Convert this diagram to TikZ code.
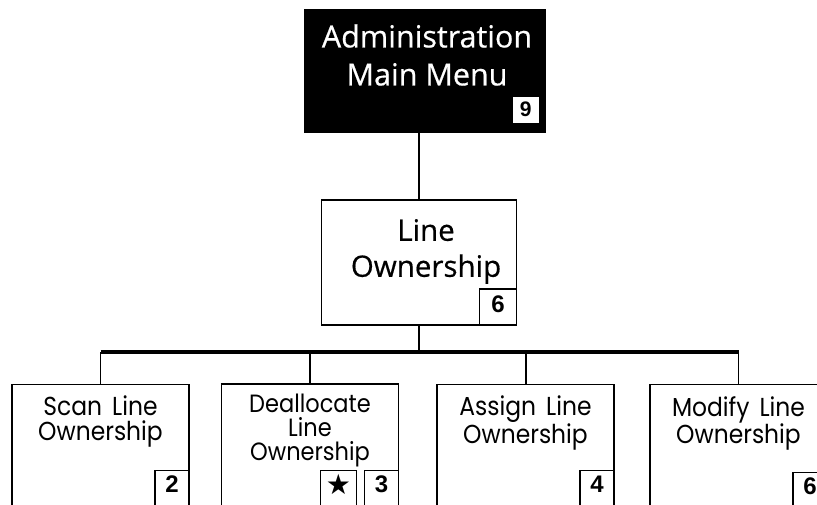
\documentclass[tikz,border=0pt]{standalone}
\usepackage{fontspec}
\newfontfamily\headfont[FakeBold=0.5]{Open Sans}
\newfontfamily\boxfont[WordSpace=1.6, FakeStretch=0.9]{Poppins}
\newfontfamily\numfont{Liberation Sans}
\newfontfamily\symfont{DejaVu Sans}
\usetikzlibrary{positioning, calc}

\begin{document}
\begin{tikzpicture}[x=1bp, y=-1bp,
        box/.style={draw, line width=1.2bp, inner sep=0pt, minimum width=177bp, minimum height=150bp, anchor=north},
        boxtext/.style={inner sep=0pt, align=center, font={\boxfont\fontsize{26bp}{25bp}\selectfont}},
        headtext/.style={inner sep=0pt, align=center, font={\headfont\fontsize{30.5bp}{38bp}\selectfont}},
        numbox/.style={draw, fill=white, line width=1.2bp, inner xsep=0pt, inner ysep=5bp, text height=17bp, text depth=33bp,
            minimum width=34bp, anchor=north east, font={\numfont\bfseries\fontsize{24bp}{24bp}\selectfont}}]
        \useasboundingbox (0,0) rectangle (817,505);

        % top of the menu tree
        \node[fill=black, inner sep=0pt, minimum width=242bp, minimum height=124bp] (menu) at (425,71) {};
        \node[headtext, text=white] (menu-t) at (427,55) {Administration\\Main Menu};
        \node[numbox, draw=none, anchor=south east, minimum width=26bp, text height=15bp, text depth=1bp,
            font={\numfont\bfseries\fontsize{21bp}{21bp}\selectfont}] (menu-n) at ($(menu.south east)+(-7,-10)$) {9};

        \node[draw, line width=1.2bp, inner sep=0pt, minimum width=195bp, minimum height=125bp] (own) at (419,262.5) {};
        \node[headtext, font={\headfont\fontsize{29.5bp}{36bp}\selectfont}] (own-t) at (426,251.5) {Line\\Ownership};
        \node[numbox, anchor=south east, minimum width=37bp, text height=18bp, text depth=8bp] (own-n) at (own.south east) {6};

        % second level
        \coordinate (bus) at (0,352);
        \foreach \name/\x in {scan/100.5, dealloc/310, assign/525.5, modify/738.5}
            \node[box] (\name) at (\x,384) {};
        \draw[line width=2bp] (dealloc.north west) -- (dealloc.north east);

        \node[boxtext, below=12bp of scan.north] (scan-t) {Scan Line\\Ownership};
        \node[boxtext, below=10bp of dealloc.north, font={\boxfont\fontsize{25bp}{24bp}\selectfont}] (dealloc-t) {Deallocate\\Line\\Ownership};
        \node[boxtext, below=12bp of assign.north] (assign-t) {Assign Line\\Ownership};
        \node[boxtext, below=12bp of modify.north] (modify-t) {Modify Line\\Ownership};

        \node[numbox] (scan-n) at ($(scan.north east)+(0,86)$) {2};
        \node[numbox] (dealloc-n) at ($(dealloc.north east)+(0,86)$) {3};
        \node[numbox, minimum width=36bp, text height=19bp, text depth=31bp, font={\symfont\fontsize{28bp}{28bp}\selectfont}] (dealloc-s) at ($(dealloc-n.north west)+(-7,0)$) {★};
        \node[numbox] (assign-n) at ($(assign.north east)+(0,86)$) {4};
        \node[numbox] (modify-n) at ($(modify.north east)+(0,88)$) {6};

        % connectors
        \draw[line width=1.5bp] (own.north) -- (own.north |- menu.south);
        \draw[line width=1.2bp] (own.south) -- (own.south |- bus);
        \foreach \name in {scan, dealloc, modify}
            \draw[line width=1.2bp] (\name.north) -- (\name.north |- bus);
        \draw[line width=2bp] (assign.north) -- (assign.north |- bus);
        \draw[line width=3.5bp] (scan.north |- bus) -- (modify.north |- bus);
    \end{tikzpicture}
\end{document}
